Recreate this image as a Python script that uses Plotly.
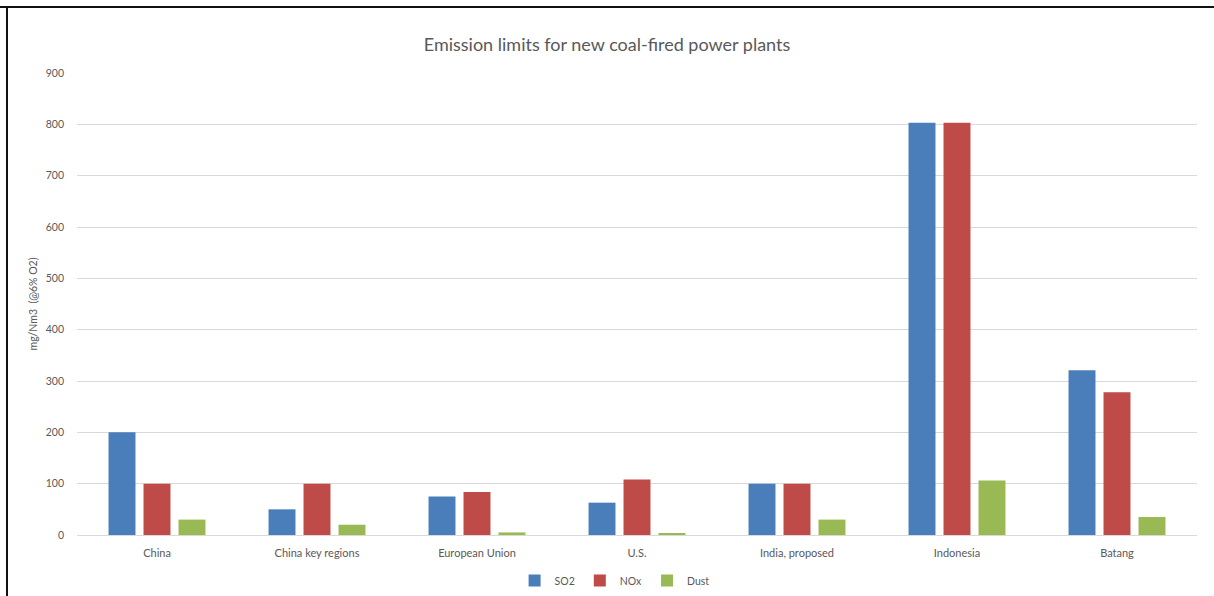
import plotly.graph_objects as go

# Emission limits for new coal-fired power plants, mg/Nm3 at 6% O2
regions = ["China", "China key regions", "European Union", "U.S.",
           "India, proposed", "Indonesia", "Batang"]
so2 = [200, 50, 75, 63, 100, 803, 321]
nox = [100, 100, 84, 108, 100, 803, 278]
dust = [30, 20, 5, 3, 30, 106, 35]

series = [
    ("SO2", so2, "#4a7ebb"),
    ("NOx", nox, "#be4b48"),
    ("Dust", dust, "#98b954"),
]

fig = go.Figure()
for name, vals, color in series:
    fig.add_trace(go.Bar(
        name=name, x=regions, y=vals,
        marker=dict(color=color, line=dict(width=0)),
    ))

text_grey = "#595959"
W, H = 1214, 596
L, R, T, B = 77, 17, 73, 61
pw, ph = W - L - R, H - T - B

fig.update_layout(
    width=W, height=H,
    margin=dict(l=L, r=R, t=T, b=B, autoexpand=False),
    paper_bgcolor="white", plot_bgcolor="white",
    barmode="group", bargap=0.344, bargroupgap=0.23,
    font=dict(family="Lato, 'Open Sans', sans-serif", color=text_grey, size=11),
    title=dict(
        text="Emission limits for new coal-fired power plants",
        x=0.5, xanchor="center", y=1 - 45 / H, yanchor="middle",
        font=dict(size=18, color=text_grey),
    ),
    xaxis=dict(
        showgrid=False, showline=False, ticks="", ticklabelstandoff=10,
        tickfont=dict(size=11, color=text_grey),
    ),
    yaxis=dict(
        range=[0, 900], dtick=100, showline=False, ticks="",
        ticklabelstandoff=12,
        gridcolor="#d9d9d9", gridwidth=1, zeroline=True,
        zerolinecolor="#d9d9d9", zerolinewidth=1,
        tickfont=dict(size=10.5, color=text_grey),
        title=dict(text="mg/Nm3  (@6% O2)", font=dict(size=10.5, color=text_grey),
                   standoff=6),
    ),
    legend=dict(
        orientation="h", x=0.48, xanchor="center",
        yref="container", y=1 - 566 / H, yanchor="top",
        font=dict(size=10.5, color=text_grey),
        itemwidth=30, traceorder="normal",
    ),
    shapes=[
        dict(type="line", xref="paper", yref="paper",
             x0=-L / pw, x1=1 + R / pw, y0=1 + (T - 7) / ph, y1=1 + (T - 7) / ph,
             line=dict(color="#111111", width=2)),
        dict(type="line", xref="paper", yref="paper",
             x0=-(L - 7) / pw, x1=-(L - 7) / pw, y0=1 + (T - 7) / ph, y1=-B / ph,
             line=dict(color="#111111", width=2)),
    ],
)

fig.write_html("out.html")
